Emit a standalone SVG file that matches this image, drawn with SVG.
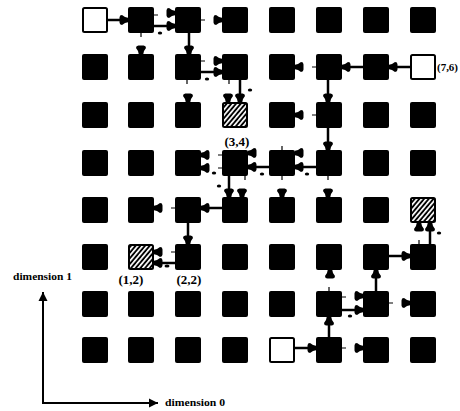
<svg xmlns="http://www.w3.org/2000/svg" xmlns:xlink="http://www.w3.org/1999/xlink" width="460" height="411" viewBox="0 0 460 411">
<style>
.b{fill:#000}
.w{fill:#fff;stroke:#000;stroke-width:2}
.h{fill:url(#hatch);stroke:#000;stroke-width:2}
.c{fill:none;stroke:#000;stroke-width:2.5;marker-end:url(#arr)}
.t{fill:none;stroke:#000;stroke-width:1.2}
.ax{fill:none;stroke:#000;stroke-width:2;marker-end:url(#axarr)}
.lbl{font-family:"Liberation Serif",serif;font-weight:bold;font-size:13px;fill:#000}
.dim{font-family:"Liberation Serif",serif;font-weight:bold;font-size:10px;fill:#000}
</style>
<defs>
<pattern id="hatch" width="3.6" height="3.6" patternUnits="userSpaceOnUse" patternTransform="rotate(40)">
<rect width="3.6" height="3.6" fill="#000"/><rect width="1.7" height="3.6" fill="#fff"/>
</pattern>
<path id="ah" d="M0,-2.3 L-3,-3 L-6,-5 Q-8.5,-5 -8.5,-2.6 L-8.5,2.6 Q-8.5,5 -6,5 L-3,3 L0,2.3 Z" fill="#000"/>
<marker id="arr" viewBox="-9 -6 10 12" refX="0" refY="0" markerWidth="10" markerHeight="12" orient="auto" markerUnits="userSpaceOnUse">
<path d="M0,-2.3 L-3,-3 L-6,-5 Q-8.5,-5 -8.5,-2.6 L-8.5,2.6 Q-8.5,5 -6,5 L-3,3 L0,2.3 Z" fill="#000"/>
</marker>
<marker id="axarr" viewBox="-10 -5 10 10" refX="0" refY="0" markerWidth="10" markerHeight="10" orient="auto" markerUnits="userSpaceOnUse">
<path d="M0,0 L-9,-4.5 L-9,4.5 Z" fill="#000"/>
</marker>
</defs>
<rect width="460" height="411" fill="#fff"/>

<!-- row y=7 -->
<g id="n0_7"><rect class="w" x="83" y="8" width="24" height="24" rx="1.5"/></g>
<g id="n1_7"><rect class="b" x="128" y="7" width="26" height="26" rx="2"/></g>
<g id="n2_7"><rect class="b" x="175" y="7" width="26" height="26" rx="2"/></g>
<g id="n3_7"><rect class="b" x="222" y="7" width="26" height="26" rx="2"/></g>
<g id="n4_7"><rect class="b" x="269" y="7" width="26" height="26" rx="2"/></g>
<g id="n5_7"><rect class="b" x="316" y="7" width="26" height="26" rx="2"/></g>
<g id="n6_7"><rect class="b" x="363" y="7" width="26" height="26" rx="2"/></g>
<g id="n7_7"><rect class="b" x="410" y="7" width="26" height="26" rx="2"/></g>
<!-- row y=6 -->
<g id="n0_6"><rect class="b" x="82" y="54" width="26" height="26" rx="2"/></g>
<g id="n1_6"><rect class="b" x="128" y="54" width="26" height="26" rx="2"/></g>
<g id="n2_6"><rect class="b" x="175" y="54" width="26" height="26" rx="2"/></g>
<g id="n3_6"><rect class="b" x="222" y="54" width="26" height="26" rx="2"/></g>
<g id="n4_6"><rect class="b" x="269" y="54" width="26" height="26" rx="2"/></g>
<g id="n5_6"><rect class="b" x="316" y="54" width="26" height="26" rx="2"/></g>
<g id="n6_6"><rect class="b" x="363" y="54" width="26" height="26" rx="2"/></g>
<g id="n7_6"><rect class="w" x="411" y="55" width="24" height="24" rx="1.5"/><text class="lbl" x="437" y="71" font-size="11" textLength="21" lengthAdjust="spacingAndGlyphs" style="font-size:11px">(7,6)</text></g>
<!-- row y=5 -->
<g id="n0_5"><rect class="b" x="82" y="102" width="26" height="26" rx="2"/></g>
<g id="n1_5"><rect class="b" x="128" y="102" width="26" height="26" rx="2"/></g>
<g id="n2_5"><rect class="b" x="175" y="102" width="26" height="26" rx="2"/></g>
<g id="n3_5"><rect class="h" x="223" y="103" width="24" height="24" rx="1.5"/></g>
<g id="n4_5"><rect class="b" x="269" y="102" width="26" height="26" rx="2"/></g>
<g id="n5_5"><rect class="b" x="316" y="102" width="26" height="26" rx="2"/></g>
<g id="n6_5"><rect class="b" x="363" y="102" width="26" height="26" rx="2"/></g>
<g id="n7_5"><rect class="b" x="410" y="102" width="26" height="26" rx="2"/></g>
<!-- row y=4 -->
<g id="n0_4"><rect class="b" x="82" y="150" width="26" height="26" rx="2"/></g>
<g id="n1_4"><rect class="b" x="128" y="150" width="26" height="26" rx="2"/></g>
<g id="n2_4"><rect class="b" x="175" y="150" width="26" height="26" rx="2"/></g>
<g id="n3_4"><rect class="b" x="222" y="150" width="26" height="26" rx="2"/><text class="lbl" x="237" y="146" text-anchor="middle">(3,4)</text></g>
<g id="n4_4"><rect class="b" x="269" y="150" width="26" height="26" rx="2"/></g>
<g id="n5_4"><rect class="b" x="316" y="150" width="26" height="26" rx="2"/></g>
<g id="n6_4"><rect class="b" x="363" y="150" width="26" height="26" rx="2"/></g>
<g id="n7_4"><rect class="b" x="410" y="150" width="26" height="26" rx="2"/></g>
<!-- row y=3 -->
<g id="n0_3"><rect class="b" x="82" y="197" width="26" height="26" rx="2"/></g>
<g id="n1_3"><rect class="b" x="128" y="197" width="26" height="26" rx="2"/></g>
<g id="n2_3"><rect class="b" x="175" y="197" width="26" height="26" rx="2"/></g>
<g id="n3_3"><rect class="b" x="222" y="197" width="26" height="26" rx="2"/></g>
<g id="n4_3"><rect class="b" x="269" y="197" width="26" height="26" rx="2"/></g>
<g id="n5_3"><rect class="b" x="316" y="197" width="26" height="26" rx="2"/></g>
<g id="n6_3"><rect class="b" x="363" y="197" width="26" height="26" rx="2"/></g>
<g id="n7_3"><rect class="h" x="411" y="198" width="24" height="24" rx="1.5"/></g>
<!-- row y=2 -->
<g id="n0_2"><rect class="b" x="82" y="244" width="26" height="26" rx="2"/></g>
<g id="n1_2"><rect class="h" x="129" y="245" width="24" height="24" rx="1.5"/><text class="lbl" x="131" y="284" text-anchor="middle">(1,2)</text></g>
<g id="n2_2"><rect class="b" x="175" y="244" width="26" height="26" rx="2"/><text class="lbl" x="189" y="284" text-anchor="middle">(2,2)</text></g>
<g id="n3_2"><rect class="b" x="222" y="244" width="26" height="26" rx="2"/></g>
<g id="n4_2"><rect class="b" x="269" y="244" width="26" height="26" rx="2"/></g>
<g id="n5_2"><rect class="b" x="316" y="244" width="26" height="26" rx="2"/></g>
<g id="n6_2"><rect class="b" x="363" y="244" width="26" height="26" rx="2"/></g>
<g id="n7_2"><rect class="b" x="410" y="244" width="26" height="26" rx="2"/></g>
<!-- row y=1 -->
<g id="n0_1"><rect class="b" x="82" y="291" width="26" height="26" rx="2"/></g>
<g id="n1_1"><rect class="b" x="128" y="291" width="26" height="26" rx="2"/></g>
<g id="n2_1"><rect class="b" x="175" y="291" width="26" height="26" rx="2"/></g>
<g id="n3_1"><rect class="b" x="222" y="291" width="26" height="26" rx="2"/></g>
<g id="n4_1"><rect class="b" x="269" y="291" width="26" height="26" rx="2"/></g>
<g id="n5_1"><rect class="b" x="316" y="291" width="26" height="26" rx="2"/></g>
<g id="n6_1"><rect class="b" x="363" y="291" width="26" height="26" rx="2"/></g>
<g id="n7_1"><rect class="b" x="410" y="291" width="26" height="26" rx="2"/></g>
<!-- row y=0 -->
<g id="n0_0"><rect class="b" x="82" y="337" width="26" height="26" rx="2"/></g>
<g id="n1_0"><rect class="b" x="128" y="337" width="26" height="26" rx="2"/></g>
<g id="n2_0"><rect class="b" x="175" y="337" width="26" height="26" rx="2"/></g>
<g id="n3_0"><rect class="b" x="222" y="337" width="26" height="26" rx="2"/></g>
<g id="n4_0"><rect class="w" x="270" y="338" width="24" height="24" rx="1.5"/></g>
<g id="n5_0"><rect class="b" x="316" y="337" width="26" height="26" rx="2"/></g>
<g id="n6_0"><rect class="b" x="363" y="337" width="26" height="26" rx="2"/></g>
<g id="n7_0"><rect class="b" x="410" y="337" width="26" height="26" rx="2"/></g>

<g id="connectors">
<path class="c" d="M108,20 H128"/>
<path class="c" d="M154,26 H175"/>
<path class="c" d="M189,33 V54"/>
<path class="c" d="M201,72 H222"/>
<path class="c" d="M240,80 V102"/>
<path class="c" d="M410,67 H389"/>
<path class="c" d="M363,67 H342"/>
<path class="c" d="M328,80 V102"/>
<path class="c" d="M328,128 V150"/>
<path class="c" d="M316,167 H295"/>
<path class="c" d="M269,167 H248"/>
<path class="c" d="M229,176 V197"/>
<path class="c" d="M222,208 H201"/>
<path class="c" d="M188,223 V244"/>
<path class="c" d="M175,263 H154"/>
<path class="c" d="M295,348 H316"/>
<path class="c" d="M329,363 V317"/>
<path class="c" d="M342,310 H363"/>
<path class="c" d="M376,291 V270"/>
<path class="c" d="M389,256 H410"/>
<path class="c" d="M430,244 V223"/>
</g>

<g id="ports">
<use xlink:href="#ah" href="#ah" transform="translate(175,13)"/>
<use xlink:href="#ah" href="#ah" transform="translate(222,20)"/>
<use xlink:href="#ah" href="#ah" transform="translate(141,54) rotate(90)"/>
<use xlink:href="#ah" href="#ah" transform="translate(222,61)"/>
<use xlink:href="#ah" href="#ah" transform="translate(228,102) rotate(90)"/>
<use xlink:href="#ah" href="#ah" transform="translate(188,102) rotate(90)"/>
<use xlink:href="#ah" href="#ah" transform="translate(295,67) rotate(180)"/>
<use xlink:href="#ah" href="#ah" transform="translate(295,115) rotate(180)"/>
<use xlink:href="#ah" href="#ah" transform="translate(295,153) rotate(180)"/>
<use xlink:href="#ah" href="#ah" transform="translate(248,153) rotate(180)"/>
<use xlink:href="#ah" href="#ah" transform="translate(201,155) rotate(180)"/>
<use xlink:href="#ah" href="#ah" transform="translate(201,168) rotate(180)"/>
<use xlink:href="#ah" href="#ah" transform="translate(242,197) rotate(90)"/>
<use xlink:href="#ah" href="#ah" transform="translate(282,197) rotate(90)"/>
<use xlink:href="#ah" href="#ah" transform="translate(328,197) rotate(90)"/>
<use xlink:href="#ah" href="#ah" transform="translate(154,208) rotate(180)"/>
<use xlink:href="#ah" href="#ah" transform="translate(154,252) rotate(180)"/>
<use xlink:href="#ah" href="#ah" transform="translate(419,223) rotate(-90)"/>
<use xlink:href="#ah" href="#ah" transform="translate(330,270) rotate(-90)"/>
<use xlink:href="#ah" href="#ah" transform="translate(363,296)"/>
<use xlink:href="#ah" href="#ah" transform="translate(410,303)"/>
<use xlink:href="#ah" href="#ah" transform="translate(363,348)"/>
</g>

<g id="ticks">
<path class="t" d="M154,15h4 M141,33v4 M201,20h4 M201,61h4 M187,80v4 M229,80v4 M312,67h4 M312,115h4 M328,176v4 M282,146v4 M282,176v4 M218,155h4 M218,168h4 M245,176v4 M171,208h4 M171,252h4 M342,348h4 M329,287v4 M342,297h4 M389,303h4 M419,240v4"/>
</g>

<g id="specks" fill="#000">
<ellipse cx="160" cy="33" rx="2.2" ry="1.5"/>
<ellipse cx="207" cy="79" rx="2.2" ry="1.5"/>
<ellipse cx="250" cy="90" rx="2.2" ry="1.5"/>
<ellipse cx="214" cy="173" rx="2.2" ry="1.5"/>
<ellipse cx="219" cy="186" rx="2.2" ry="1.5"/>
<ellipse cx="262" cy="174" rx="2.2" ry="1.5"/>
<ellipse cx="307" cy="174" rx="2.2" ry="1.5"/>
<ellipse cx="167" cy="266" rx="2.5" ry="1.5"/>
<ellipse cx="350" cy="316" rx="2.2" ry="1.5"/>
<ellipse cx="439" cy="233" rx="2.2" ry="1.5"/>
</g>

<g id="axes">
<path class="ax" d="M43,403 V292"/>
<path class="ax" d="M42,403 H158"/>
<text class="dim" x="13" y="280" textLength="59" lengthAdjust="spacingAndGlyphs">dimension 1</text>
<text class="dim" x="165" y="406" textLength="60" lengthAdjust="spacingAndGlyphs">dimension 0</text>
</g>
</svg>
